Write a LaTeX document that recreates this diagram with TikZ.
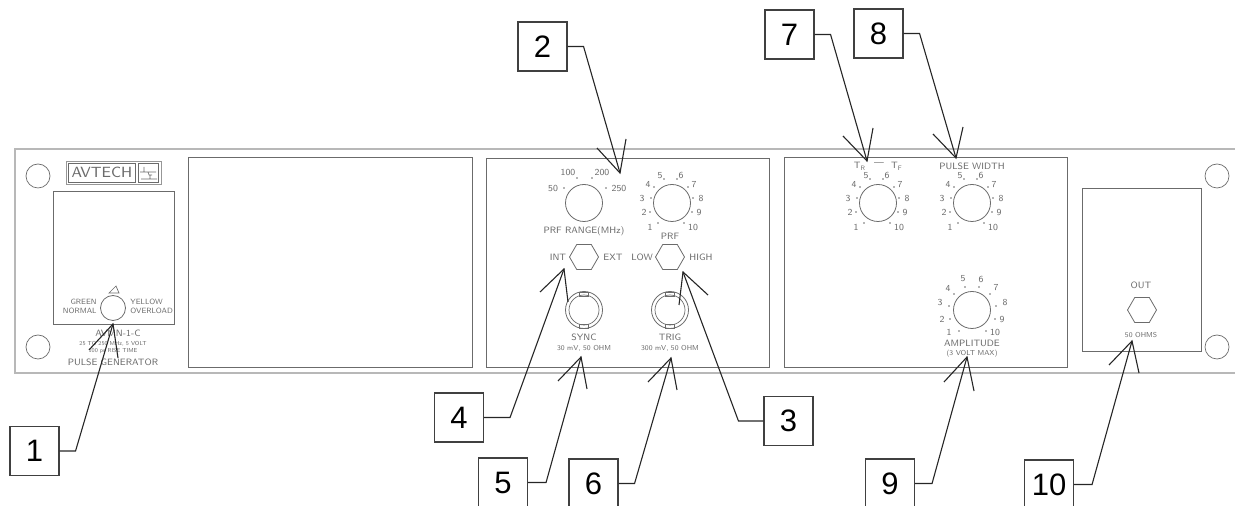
\documentclass[tikz,border=0pt]{standalone}
\usepackage{fontspec}
\newfontfamily\numfont{Liberation Sans}
\usetikzlibrary{shapes.geometric,positioning}
\definecolor{panelline}{gray}{0.72}
\definecolor{cadline}{gray}{0.42}
\definecolor{cadtext}{gray}{0.42}
\tikzstyle{numbox} = [draw=black!75, line width=0.55pt, minimum size=24.5pt, inner sep=0pt, font=\numfont\fontsize{15.5}{16}\selectfont]
\tikzstyle{lead} = [draw=black!85, line width=0.55pt]
\tikzstyle{plate} = [draw=cadline, line width=0.45pt]
\tikzstyle{knob} = [circle, draw=cadline, line width=0.4pt, minimum size=18.5pt, inner sep=0pt]
\tikzstyle{hexa} = [regular polygon, regular polygon sides=6, draw=cadline, line width=0.4pt, minimum size=14.5pt, inner sep=0pt]
\tikzstyle{lab} = [text=cadtext, inner sep=0pt, font=\sffamily\fontsize{4.6}{5}\selectfont]
\tikzstyle{tiny} = [text=cadtext, inner sep=0pt, font=\sffamily\fontsize{3.6}{4}\selectfont]
\newcommand{\spot}[1]{\fill[cadtext] (#1) circle (0.9);}
\newcommand{\dialmarks}[1]{
\node[lab] (#1a) at (-22,24) {1};
\node[lab] (#1b) at (-28,9) {2};
\node[lab] (#1c) at (-30,-5) {3};
\node[lab] (#1d) at (-24,-19) {4};
\node[lab] (#1e) at (-12,-27) {5};
\node[lab] (#1f) at (9,-28) {6};
\node[lab] (#1g) at (22,-18) {7};
\node[lab] (#1h) at (29,-5) {8};
\node[lab] (#1i) at (27,9) {9};
\node[lab] (#1j) at (21,24) {10};
\spot{-14,20}\spot{-22,9}\spot{-21,-5}\spot{-18,-16}\spot{-8,-24}
\spot{5,-24}\spot{16,-16}\spot{21,-5}\spot{20,9}\spot{12,20}
}
\newcommand{\jack}[3]{
\node[circle, draw=cadline, line width=0.4pt, minimum size=18.5pt, inner sep=0pt] (#1) at (#2,#3) {};
\draw[cadline, line width=0.35pt] (#2,#3) circle (15);
\draw[cadline, line width=0.3pt] (#2-4.5,#3-18) rectangle (#2+4.5,#3-14);
\draw[cadline, line width=0.3pt] (#2-4.5,#3+14) rectangle (#2+4.5,#3+18);
}
\begin{document}
\begin{tikzpicture}[x=0.5pt,y=-0.5pt]
\useasboundingbox (0,0) rectangle (1235,506);
\clip (0,0) rectangle (1235,506);
% panel outline
\draw[panelline, line width=0.7pt] (1240,149)--(15,149)--(15,373)--(1240,373);
\draw[cadline, line width=0.35pt] (38,176) circle (12);
\draw[cadline, line width=0.35pt] (38,347) circle (12);
\draw[cadline, line width=0.35pt] (1217,176) circle (12);
\draw[cadline, line width=0.35pt] (1217,347) circle (12);
% logo
\draw[cadline!70, line width=0.35pt] (66,161) rectangle (161,184);
\draw[cadline, line width=0.35pt] (68,163) rectangle (135,182);
\draw[cadline, line width=0.35pt] (138,163) rectangle (158,182);
\node[lab, font=\sffamily\fontsize{7.4}{8}\selectfont] (logo) at (102,172.5) {AVTECH};
\draw[cadline, line width=0.3pt] (140,172)--(156,172) (144,172)--(144,167) (148,172)--(149,175)--(152,175) (141,179)--(150,179)--(150,175.5) (150,179)--(157,179);
% plates
\draw[plate] (53,191) rectangle (174,324);
\draw[plate] (188,157) rectangle (472,367);
\draw[plate] (486,158) rectangle (769,367);
\draw[plate] (784,157) rectangle (1067,367);
\draw[plate] (1082,188) rectangle (1201,351);
% lamp
\node[knob, minimum size=12.5pt] (lamp) at (113,308) {};
\draw[cadline, line width=0.35pt] (109,293)--(116,286)--(119,293)--cycle;
\node[tiny, font=\sffamily\fontsize{3.8}{4.5}\selectfont, align=right, anchor=east] (green) at (97,306.5) {GREEN\\NORMAL};
\node[tiny, font=\sffamily\fontsize{3.8}{4.5}\selectfont, align=left, anchor=west] (yellow) at (130,306.5) {YELLOW\\OVERLOAD};
\node[lab] (model) at (118,333) {AVMN-1-C};
\node[tiny, font=\sffamily\fontsize{2.9}{3}\selectfont] (spec) at (113,344) {25 TO 250 MHz, 5 VOLT};
\node[tiny, font=\sffamily\fontsize{2.9}{3}\selectfont] (risetime) at (113,350.5) {100 ps RISE TIME};
\node[lab] (pg) at (113,362) {PULSE GENERATOR};
% prf range
\node[knob] (range) at (584,203) {};
\node[lab] (r50) at (553,188) {50};
\node[lab] (r100) at (568,172) {100};
\node[lab] (r200) at (602,172) {200};
\node[lab] (r250) at (619,188) {250};
\spot{564,188}\spot{577,178}\spot{592,178}\spot{606,188}
\node[lab] (rangetxt) at (584,231) {PRF  RANGE(MHz)};
% prf
\node[knob] (prf) at (672,203) {};
\begin{scope}[shift={(672,203)}]
\dialmarks{p}
\end{scope}
\node[lab] (prftxt) at (670,236) {PRF};
\node[hexa] (intext) at (584,257) {};
\node[hexa] (lowhigh) at (670,257) {};
\node[lab] (int) at (558,257) {INT};
\node[lab] (ext) at (613,257) {EXT};
\node[lab] (low) at (642,257) {LOW};
\node[lab] (high) at (701,257) {HIGH};
\jack{sync}{584}{310}
\jack{trig}{670}{310}
\node[lab] (synctxt) at (584,337) {SYNC};
\node[lab] (trigtxt) at (670,337) {TRIG};
\node[tiny] (syncv) at (584,348) {30  mV,  50  OHM};
\node[tiny] (trigv) at (670,348) {300  mV,  50  OHM};
% rise, width
\node[knob] (rise) at (878,203) {};
\begin{scope}[shift={(878,203)}]
\dialmarks{t}
\end{scope}
\node[lab] (tr) at (860,166) {T\textsubscript{R}};
\node[lab] (trdash) at (879,164) {---};
\node[lab] (tf) at (897,166) {T\textsubscript{F}};
\node[knob] (width) at (972,203) {};
\begin{scope}[shift={(972,203)}]
\dialmarks{w}
\end{scope}
\node[lab] (widthtxt) at (972,166) {PULSE  WIDTH};
% amplitude
\node[knob] (amp) at (972,310) {};
\node[lab] (a1) at (949,332) {1};
\node[lab] (a2) at (942,319) {2};
\node[lab] (a3) at (940,302) {3};
\node[lab] (a4) at (948,288) {4};
\node[lab] (a5) at (963,279) {5};
\node[lab] (a6) at (981,279) {6};
\node[lab] (a7) at (996,288) {7};
\node[lab] (a8) at (1005,302) {8};
\node[lab] (a9) at (1002,319) {9};
\node[lab] (a10) at (995,332) {10};
\spot{959,331}\spot{950,319}\spot{949,306}\spot{954,294}\spot{965,287}
\spot{979,287}\spot{990,294}\spot{996,306}\spot{995,319}\spot{986,331}
\node[lab] (amptxt) at (972,343) {AMPLITUDE};
\node[tiny] (ampmax) at (972,354) {(3  VOLT  MAX)};
% out
\node[hexa] (outhex) at (1142,310) {};
\node[lab] (outtxt) at (1141,285) {OUT};
\node[tiny] (ohms) at (1141,335) {50  OHMS};
% callouts
\node[numbox] (n1) at (34.5,451) {1};
\coordinate (t1) at (113,324);
\draw[lead] (n1.east) -- ++(16,0) -- (t1);
\draw[lead] (89,350) -- (t1) -- (118,358);
\node[numbox] (n2) at (542.5,46.5) {2};
\coordinate (t2) at (620,173);
\draw[lead] (n2.east) -- ++(16,0) -- (t2);
\draw[lead] (597,148) -- (t2) -- (626,139);
\node[numbox] (n3) at (788.5,421) {3};
\coordinate (t3) at (683,272);
\draw[lead] (n3.west) -- ++(-25,0) -- (t3);
\draw[lead] (708,295) -- (t3) -- (679,305);
\node[numbox] (n4) at (459,417.5) {4};
\coordinate (t4) at (564,269);
\draw[lead] (n4.east) -- ++(26,0) -- (t4);
\draw[lead] (540,292) -- (t4) -- (568,302);
\node[numbox] (n5) at (503,482.5) {5};
\coordinate (t5) at (581,357);
\draw[lead] (n5.east) -- ++(18,0) -- (t5);
\draw[lead] (558,381) -- (t5) -- (587,389);
\node[numbox] (n6) at (593.5,483.5) {6};
\coordinate (t6) at (671,358);
\draw[lead] (n6.east) -- ++(16,0) -- (t6);
\draw[lead] (648,382) -- (t6) -- (677,390);
\node[numbox] (n7) at (789.5,34.5) {7};
\coordinate (t7) at (867,161);
\draw[lead] (n7.east) -- ++(16,0) -- (t7);
\draw[lead] (843,136) -- (t7) -- (873,128);
\node[numbox] (n8) at (878.5,33.5) {8};
\coordinate (t8) at (956,158);
\draw[lead] (n8.east) -- ++(16,0) -- (t8);
\draw[lead] (933,134) -- (t8) -- (963,127);
\node[numbox] (n9) at (890,483.5) {9};
\coordinate (t9) at (967,357);
\draw[lead] (n9.east) -- ++(17,0) -- (t9);
\draw[lead] (944,382) -- (t9) -- (974,391);
\node[numbox] (n10) at (1049,484.5) {10};
\coordinate (t10) at (1132,341);
\draw[lead] (n10.east) -- ++(18,0) -- (t10);
\draw[lead] (1109,365) -- (t10) -- (1139,373);
\end{tikzpicture}
\end{document}
